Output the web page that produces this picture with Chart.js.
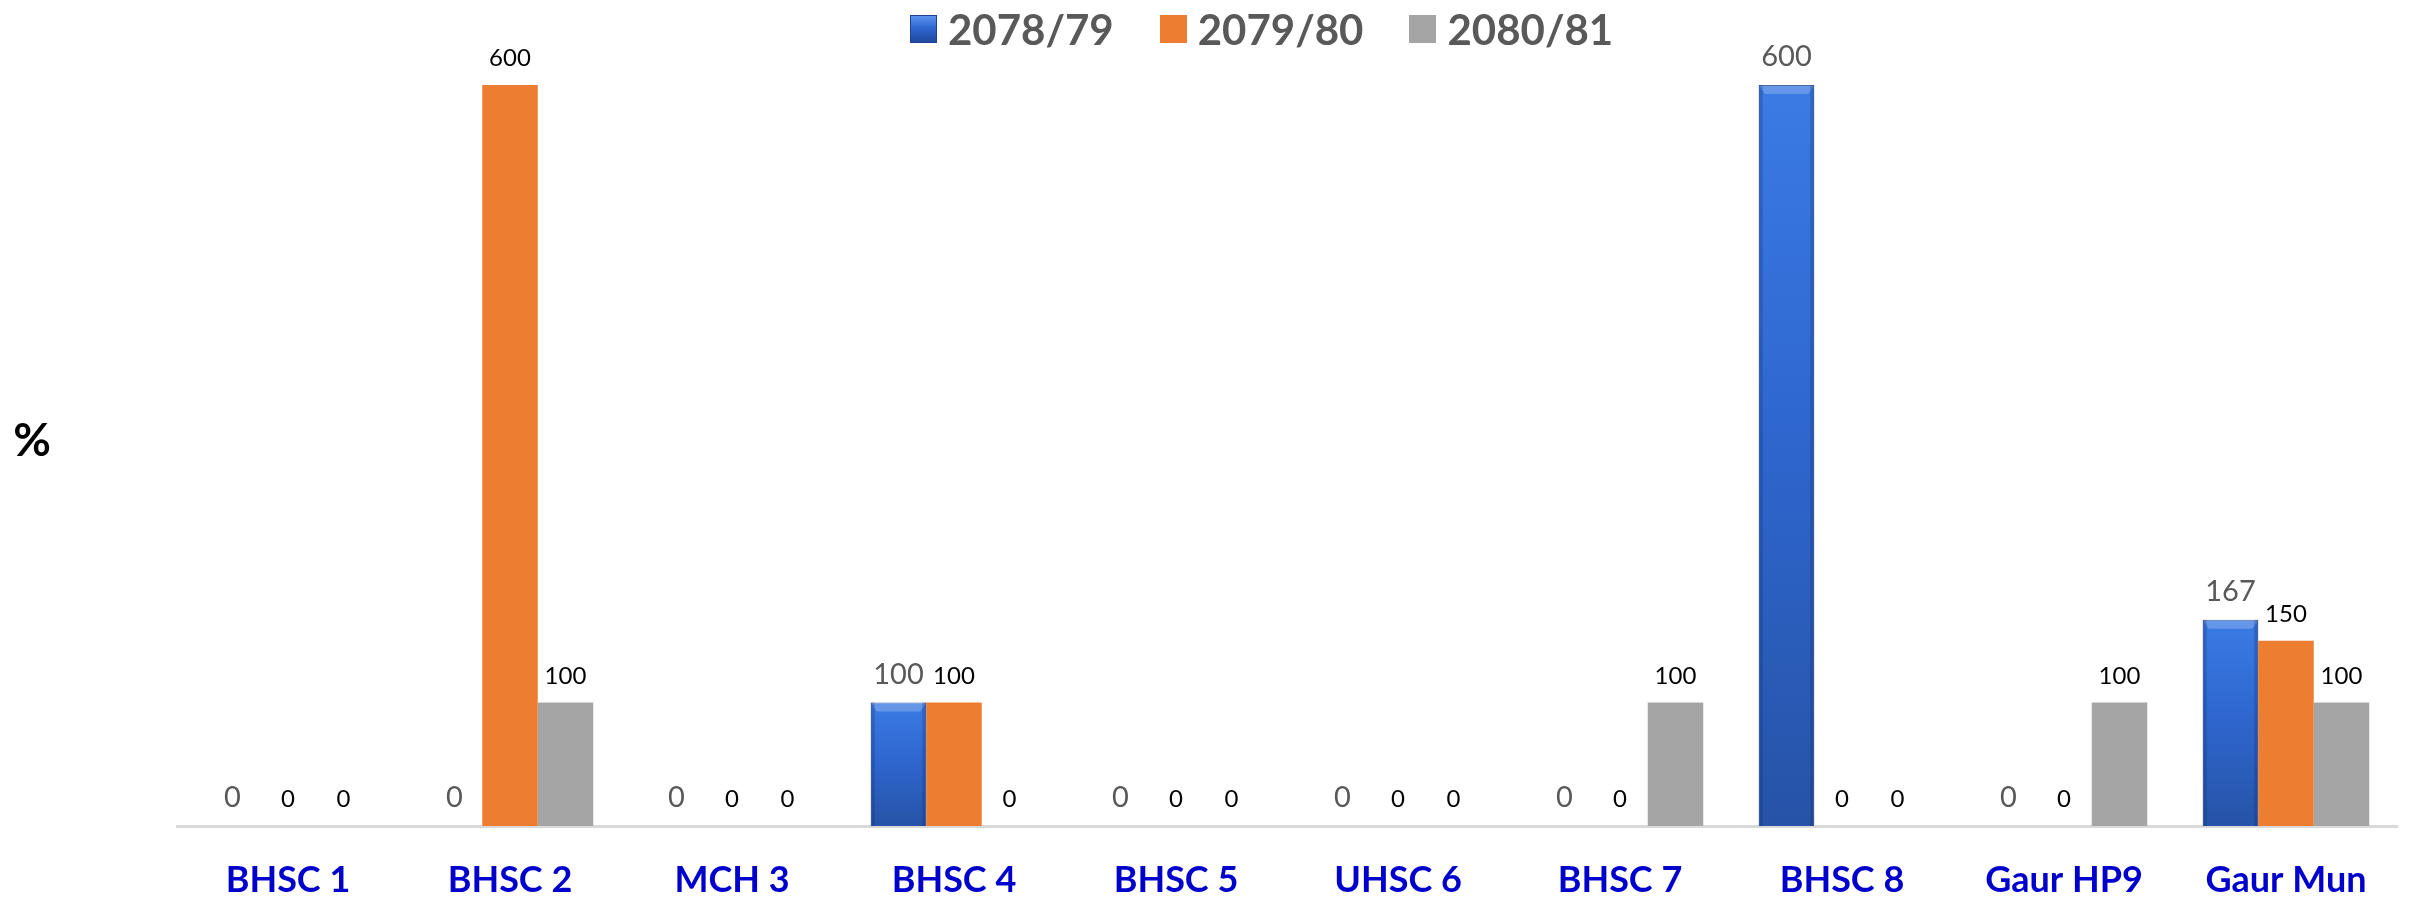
<!DOCTYPE html>
<html>
<head>
<meta charset="utf-8">
<script src="https://cdn.jsdelivr.net/npm/chart.js@4/dist/chart.umd.min.js"></script>
<style>
  html, body { margin: 0; padding: 0; background: #fff; }
  #wrap { position: relative; width: 2412px; height: 902px; }
  #legend {
    position: absolute; left: 910px; top: 0; height: 57px;
    display: flex; align-items: center;
    font-family: Lato, sans-serif; font-weight: bold; font-size: 42px; color: #595959;
  }
  #legend .item { display: flex; align-items: center; margin-right: 46px; }
  #legend .box { width: 27px; height: 28px; margin-right: 11px; box-sizing: border-box; }
</style>
</head>
<body>
<div id="wrap">
  <canvas id="chart" width="2412" height="902"></canvas>
  <div id="legend"></div>
</div>
<script>
// Data
const facilities = ['BHSC 1', 'BHSC 2', 'MCH 3', 'BHSC 4', 'BHSC 5', 'UHSC 6', 'BHSC 7', 'BHSC 8', 'Gaur HP9', 'Gaur Mun'];
const seriesNames = ['2078/79', '2079/80', '2080/81'];
const fy7879 = [0, 0, 0, 100, 0, 0, 0, 600, 0, 167];
const fy7980 = [0, 600, 0, 100, 0, 0, 0, 0, 0, 150];
const fy8081 = [0, 100, 0, 0, 0, 0, 100, 0, 100, 100];
const yMax = 600;

// each blue bar gets its own top-to-bottom shading
function blueFill(c) {
    const y = c.chart.scales.y;
    if (!y || c.parsed === undefined || !c.parsed.y) return '#2f65cc';
    const top = y.getPixelForValue(c.parsed.y);
    const bottom = y.getPixelForValue(0);
    const g = c.chart.ctx.createLinearGradient(0, top, 0, bottom);
    g.addColorStop(0, '#3b7be4');
    g.addColorStop(0.45, '#2f67d0');
    g.addColorStop(1, '#2653a7');
    return g;
}

// value labels above each bar + bevel on the blue bars
const barExtras = {
    id: 'barExtras',
    afterDatasetsDraw(chart) {
        const ctx = chart.ctx;
        const blue = chart.getDatasetMeta(0);
        blue.data.forEach((bar, j) => {
            if (!fy7879[j]) return;
            const l = bar.x - bar.width / 2, r = bar.x + bar.width / 2, t = bar.y, b = bar.base;
            ctx.save();
            ctx.fillStyle = 'rgba(255,255,255,0.22)';
            ctx.beginPath();
            ctx.moveTo(l, t); ctx.lineTo(r, t); ctx.lineTo(r - 6, t + 9); ctx.lineTo(l + 6, t + 9);
            ctx.closePath(); ctx.fill();
            ctx.fillStyle = 'rgba(10,30,90,0.22)';
            ctx.fillRect(l, t, 4, b - t);
            ctx.fillRect(r - 4, t, 4, b - t);
            ctx.restore();
        });

        chart.data.datasets.forEach((ds, i) => {
            const meta = chart.getDatasetMeta(i);
            meta.data.forEach((bar, j) => {
                ctx.save();
                ctx.textAlign = 'center';
                ctx.textBaseline = 'alphabetic';
                if (i === 0) {
                    ctx.font = '29px Lato';
                    ctx.fillStyle = '#595959';
                } else {
                    ctx.font = '24px Lato';
                    ctx.fillStyle = '#000000';
                }
                ctx.fillText(String(ds.data[j]), bar.x, bar.y - 19);
                ctx.restore();
            });
        });

        // "%" axis mark on the left
        ctx.save();
        ctx.font = 'bold 46px Lato';
        ctx.fillStyle = '#000000';
        ctx.textAlign = 'center';
        ctx.textBaseline = 'middle';
        ctx.fillText('%', 32, 441);
        ctx.restore();
    }
};

const ctx = document.getElementById('chart').getContext('2d');
const chart = new Chart(ctx, {
    type: 'bar',
    data: {
        labels: facilities,
        datasets: [
            {
                label: seriesNames[0],
                data: fy7879,
                backgroundColor: blueFill,
                borderColor: '#1f4190',
                borderWidth: c => (c.raw > 0 ? 1 : 0),
                borderSkipped: 'bottom'
            },
            {
                label: seriesNames[1],
                data: fy7980,
                backgroundColor: '#ed7d31',
                borderWidth: 0
            },
            {
                label: seriesNames[2],
                data: fy8081,
                backgroundColor: '#a5a5a5',
                borderWidth: 0
            }
        ]
    },
    options: {
        responsive: false,
        animation: false,
        layout: { padding: { left: 177, right: 15, top: 85, bottom: 0 } },
        datasets: { bar: { categoryPercentage: 0.75, barPercentage: 1 } },
        plugins: {
            legend: { display: false },
            tooltip: { enabled: false }
        },
        scales: {
            x: {
                grid: { display: false, drawTicks: false },
                border: { display: true, color: '#d9d9d9', width: 3 },
                ticks: {
                    padding: 33,
                    maxRotation: 0,
                    color: '#0000cc',
                    font: { family: 'Lato', size: 36, weight: 'bold' }
                },
                afterFit(scale) { scale.height = 76; }
            },
            y: {
                display: false,
                min: 0,
                max: yMax
            }
        }
    },
    plugins: [barExtras]
});

// legend as html, styled like the series
const legendBoxes = [
    'linear-gradient(180deg, #5a93ef 0%, #2f67d0 45%, #1f4a9e 100%)',
    '#ed7d31',
    '#a5a5a5'
];
const legendEl = document.getElementById('legend');
seriesNames.forEach((name, i) => {
    const item = document.createElement('div');
    item.className = 'item';
    const box = document.createElement('span');
    box.className = 'box';
    box.style.background = legendBoxes[i];
    if (i === 0) box.style.border = '1px solid #1f4190';
    const txt = document.createElement('span');
    txt.textContent = name;
    item.appendChild(box);
    item.appendChild(txt);
    legendEl.appendChild(item);
});
</script>
</body>
</html>
